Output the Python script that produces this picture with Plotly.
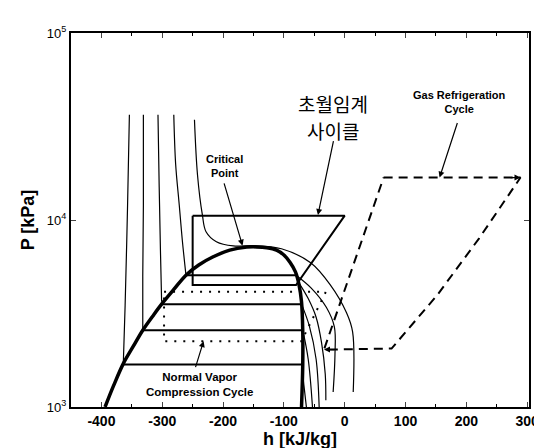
import plotly.graph_objects as go
import numpy as np

# ---------------- data (h in kJ/kg, P in kPa) ----------------
dome_h = [-394, -380, -364, -348, -332, -316, -301, -281, -261, -240, -217, -189, -161, -145, -128, -112, -100, -90, -81, -75, -71, -69, -69, -71]
dome_p = [1000, 1300, 1706, 2100, 2574, 3050, 3548, 4250, 5070, 5750, 6340, 6900, 7160, 7180, 7110, 6900, 6494, 5950, 5280, 4490, 3651, 2574, 1671, 1000]

# liquid-side isotherms (nearly vertical)
iso_liq = [
    ([-354, -357, -361, -364], [36500, 12000, 3500, 1706]),
    ([-331, -331, -332, -332], [36500, 12000, 5000, 2574]),
    ([-307, -305, -303, -301], [36500, 15000, 7000, 3650]),
    ([-281, -278, -272, -267, -261], [36500, 20000, 12000, 7800, 5070]),
]
# supercritical isotherm
iso_sc_h = [-247, -242, -234, -228, -211, -183, -150, -104, -56, -24, 3, 13, 14]
iso_sc_p = [34350, 17400, 10640, 8660, 7656, 7265, 7290, 7015, 5906, 4510, 3190, 2523, 1203]
# vapor-side isotherms
iso_vap = [
    ([-71, -67, -63], [1687, 1300, 1000]),
    ([-69, -60, -53], [2574, 1800, 1000]),
    ([-71, -58, -47, -42], [3548, 2700, 1800, 1000]),
    ([-75, -60, -47, -38, -32, -31], [4600, 3800, 3020, 2200, 1500, 1086]),
    ([-80, -55, -30, -17, -16, -19], [5070, 4326, 3404, 2684, 1900, 1203]),
]
# horizontal evaporation / condensation lines
horiz_p = [1687, 2574, 3548, 5070]
horiz_h0 = [-364, -332, -301, -261]
horiz_h1 = [-71, -69, -71, -80]

# transcritical cycle
tc_h = [-250, 0, -80, -250, -250]
tc_p = [10550, 10550, 4490, 4490, 10550]

# normal vapor compression cycle (dotted)
nv_h = [-297, -31, -71, -297, -297]
nv_p = [4130, 4130, 2250, 2250, 4130]

# gas refrigeration cycle (dashed)
gas_h = [64, 289, 221, 152, 77, -34, 64]
gas_p = [16870, 16870, 7980, 3963, 2053, 2028, 16870]

# text labels: (text, h, P, size, font)
labels = [
    ("<b>Critical<br>Point</b>", -197, 19500, 11, "Arial"),
    ("초월임계", -19, 42000, 19, "Noto Sans CJK KR"),
    ("사이클", -19, 30000, 19, "Noto Sans CJK KR"),
    ("<b>Gas Refrigeration<br>Cycle</b>", 189, 42500, 11, "Arial"),
    ("<b>Normal Vapor<br>Compression Cycle</b>", -239, 1318, 11.5, "Arial"),
]
# arrows: (head h, head P, tail h, tail P)
arrows = [
    (-168, 7290, -199, 16000),
    (-44, 10640, -18, 26900),
    (156, 16870, 186, 33650),
    (-232, 2250, -246, 1603),
    (289, 16870, 270, 16870),
    (-34, 2028, -15, 2028),
]

x_ticks = [-400, -300, -200, -100, 0, 100, 200, 300]
x_ticktext = ["<b>%d</b>" % v for v in x_ticks]
y_ticks = [1000, 10000, 100000]
y_ticktext = ["10<sup>3</sup>", "10<sup>4</sup>", "10<sup>5</sup>"]

# ---------------- figure ----------------
fig = go.Figure()
K = "black"


def add(h, p, width=1.2, dash="solid", shape="linear"):
    fig.add_trace(go.Scatter(x=h, y=p, mode="lines", line=dict(color=K, width=width, dash=dash, shape=shape),
                             hoverinfo="skip", showlegend=False))


for h, p in iso_liq:
    add(h, p, 1.2, shape="spline")
add(iso_sc_h, iso_sc_p, 1.2, shape="spline")
for h, p in iso_vap:
    add(h, p, 1.2, shape="spline")
for p, a, b in zip(horiz_p, horiz_h0, horiz_h1):
    add([a, b], [p, p], 2)
add(tc_h, tc_p, 2)
add(nv_h, nv_p, 2, "2px,7px")
add(gas_h, gas_p, 2, "9px,6px")
add(dome_h, dome_p, 3.5, shape="spline")

for txt, h, p, sz, fam in labels:
    fig.add_annotation(x=h, y=np.log10(p), text=txt, showarrow=False,
                       font=dict(family=fam, size=sz, color=K), align="center")
for hh, hp, th, tp in arrows:
    fig.add_annotation(x=hh, y=np.log10(hp), ax=th, ay=np.log10(tp), axref="x", ayref="y",
                       text="", showarrow=True, arrowhead=2, arrowsize=1, arrowwidth=1.2, arrowcolor=K)

fig.update_xaxes(range=[-450, 303], tickvals=x_ticks, ticktext=x_ticktext, ticks="inside", ticklen=5,
                 mirror="ticks", showline=True, linecolor=K, linewidth=2, showgrid=False, zeroline=False,
                 minor=dict(dtick=50, ticks="inside", ticklen=3, tickcolor=K),
                 tickfont=dict(family="Arial", size=14, color=K),
                 title=dict(text="<b>h [kJ/kg]</b>", font=dict(family="Arial", size=18, color=K), standoff=4))
fig.update_yaxes(type="log", range=[3, 5], tickvals=y_ticks, ticktext=y_ticktext, ticks="inside", ticklen=5,
                 mirror="ticks", showline=True, linecolor=K, linewidth=2, showgrid=False, zeroline=False,
                 tickfont=dict(family="Arial", size=13, color=K),
                 title=dict(text="<b>P [kPa]</b>", font=dict(family="Arial", size=18, color=K), standoff=8))
fig.update_layout(width=542, height=448, margin=dict(l=63, r=11, t=25, b=49),
                  plot_bgcolor="white", paper_bgcolor="white")
fig.write_html("out.html")
